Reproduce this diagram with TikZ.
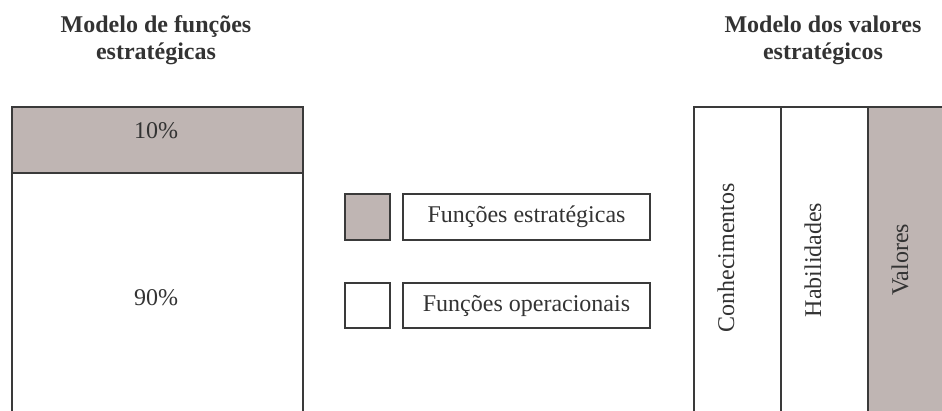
\documentclass[tikz,border=0pt]{standalone}
\usepackage{fontspec}
\setmainfont{Liberation Serif}
\definecolor{shade}{HTML}{BFB5B3}
\definecolor{linec}{HTML}{3A3A3A}
\definecolor{textc}{HTML}{333333}
\tikzset{
  base/.style={font=\fontsize{24}{28}\selectfont, text=textc},
  box/.style={base, draw=linec, line width=2pt, inner sep=0pt, anchor=north west},
  lbl/.style={base, inner sep=0pt},
  title/.style={lbl, font=\fontsize{24}{27}\selectfont\bfseries, align=center},
  col/.style={box, minimum width=87pt, minimum height=330pt},
  vlbl/.style={lbl, rotate=90}
}
\begin{document}
\begin{tikzpicture}[x=1pt,y=-1pt]
\useasboundingbox (0,0) rectangle (942,410);
\clip (0,0) rectangle (942,410);
% titles
\node[title] (t1) at (156,40) {Modelo de funções\\estratégicas};
\node[title] (t2) at (823,40) {Modelo dos valores\\estratégicos};
% left model
\node[box, fill=shade, minimum width=291pt, minimum height=66pt] (s10) at (11,106) {};
\node[box, fill=white, minimum width=291pt, minimum height=270pt] (s90) at (11,172) {};
\node[lbl] (l10) at (156,131) {10\%};
\node[lbl] (l90) at (156,298) {90\%};
% legend
\node[box, fill=shade, minimum width=45pt, minimum height=46pt] (k1) at (344,193) {};
\node[box, fill=white, minimum width=247pt, minimum height=46pt] (d1) at (402,193) {};
\node[lbl] (e1) at (d1.center) {Funções estratégicas};
\node[box, fill=white, minimum width=45pt, minimum height=45pt] (k2) at (344,282) {};
\node[box, fill=white, minimum width=247pt, minimum height=45pt] (d2) at (402,282) {};
\node[lbl] (e2) at (d2.center) {Funções operacionais};
% right model
\node[col, fill=white] (c1) at (693,106) {};
\node[col, fill=white] (c2) at (780,106) {};
\node[col, fill=shade] (c3) at (867,106) {};
\node[vlbl] (v1) at (726,258) {Conhecimentos};
\node[vlbl] (v2) at (813,260) {Habilidades};
\node[vlbl] (v3) at (900,260) {Valores};
\end{tikzpicture}
\end{document}
